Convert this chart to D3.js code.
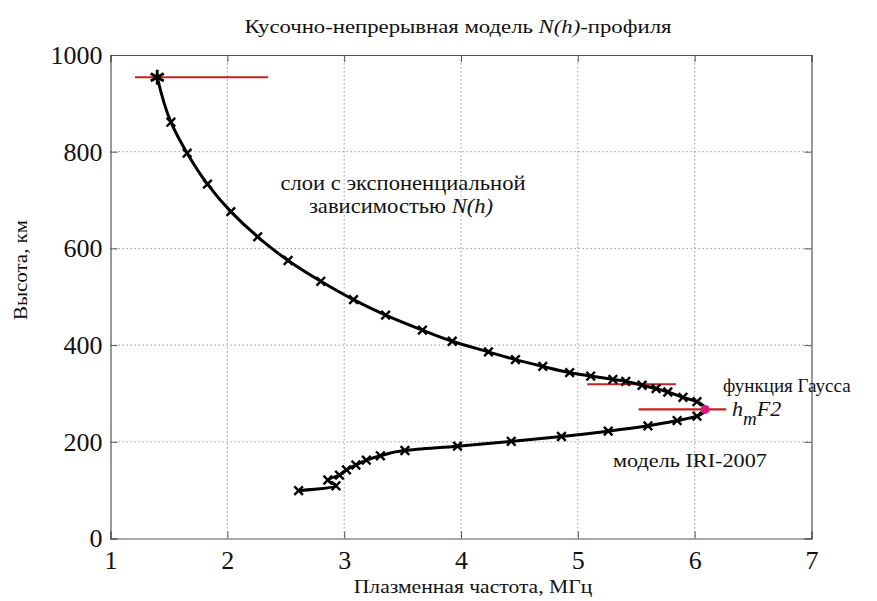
<!DOCTYPE html>
<html>
<head>
<meta charset="utf-8">
<script src="https://cdn.jsdelivr.net/npm/d3@7"></script>
<style>
  html, body { margin: 0; padding: 0; background: #fff; }
  svg { display: block; }
  text { font-family: "Liberation Serif", "Times New Roman", serif; fill: #111; }
</style>
</head>
<body>
<svg id="chart" width="877" height="601"></svg>
<script>
// ---- data ----
const xTicks = [1, 2, 3, 4, 5, 6, 7];
const yTicks = [0, 200, 400, 600, 800, 1000];

// lower part of the profile (IRI-2007 model), from the bottom up
const lowerFreq   = [2.61, 2.93, 2.86, 2.96, 3.02, 3.10, 3.19, 3.31, 3.52, 3.97, 4.43, 4.86, 5.26, 5.60, 5.85, 6.02];
const lowerHeight = [99, 109, 121, 131, 142, 152, 162, 171, 182, 191, 201, 211, 222, 233, 244, 253];

// peak hmF2
const peakFreq = [6.09];
const peakHeight = [267];

// upper part (Gaussian + exponential layers), from the peak up
const upperFreq   = [6.02, 5.90, 5.77, 5.67, 5.55, 5.41, 5.30, 5.11, 4.93, 4.70, 4.466, 4.235, 3.925, 3.67, 3.355, 3.08, 2.80, 2.52, 2.26, 2.03, 1.83, 1.656, 1.517, 1.40];
const upperHeight = [283, 292, 303, 310, 317, 325, 329, 336, 343, 356, 370, 386, 408, 431, 462, 494, 532, 575, 624, 676, 733, 797, 861, 954];

// layer boundaries (red horizontal lines)
const boundaryHeight = [954, 319, 267];
const boundaryStart  = [1.21, 5.08, 5.52];
const boundaryEnd    = [2.35, 5.84, 6.27];

// ---- drawing ----
const svg = d3.select("#chart");
const pL = 110.5, pR = 811.5, pT = 55, pB = 538.5;

const x = d3.scaleLinear().domain([1, 7]).range([pL, pR]);
const y = d3.scaleLinear().domain([0, 1000]).range([pB, pT]);

// grid
const grid = svg.append("g");
grid.selectAll("line.gx").data(xTicks.slice(1, -1)).join("line")
  .attr("x1", d => x(d)).attr("x2", d => x(d))
  .attr("y1", pT).attr("y2", pB)
  .attr("stroke", "#999").attr("stroke-width", 1).attr("stroke-dasharray", "1.5,2.5");
grid.selectAll("line.gy").data(yTicks.slice(1, -1)).join("line")
  .attr("y1", d => y(d)).attr("y2", d => y(d))
  .attr("x1", pL).attr("x2", pR)
  .attr("stroke", "#999").attr("stroke-width", 1).attr("stroke-dasharray", "1.5,2.5");

// axes (ticks inward)
const axB = svg.append("g").attr("transform", `translate(0,${pB})`)
  .call(d3.axisBottom(x).tickValues(xTicks).tickSize(-7).tickPadding(12).tickFormat(d3.format("d")));
const axL = svg.append("g").attr("transform", `translate(${pL},0)`)
  .call(d3.axisLeft(y).tickValues(yTicks).tickSize(-7).tickPadding(8).tickFormat(d3.format("d")));
const axT = svg.append("g").attr("transform", `translate(0,${pT})`)
  .call(d3.axisTop(x).tickValues(xTicks).tickSize(-7).tickFormat(""));
const axR = svg.append("g").attr("transform", `translate(${pR},0)`)
  .call(d3.axisRight(y).tickValues(yTicks).tickSize(-7).tickFormat(""));
[axB, axL, axT, axR].forEach(g => {
  g.selectAll("path.domain").attr("stroke", "#555").attr("stroke-width", 1.2);
  g.selectAll(".tick line").attr("stroke", "#555");
  g.selectAll(".tick text").attr("font-family", "Liberation Serif, serif")
    .attr("font-size", 26).attr("fill", "#111");
});

// red boundary lines
svg.append("g").selectAll("line").data(boundaryHeight).join("line")
  .attr("x1", (d, i) => x(boundaryStart[i])).attr("x2", (d, i) => x(boundaryEnd[i]))
  .attr("y1", d => y(d)).attr("y2", d => y(d))
  .attr("stroke", "#c42326").attr("stroke-width", 2.2);

// profile curve
const pts = [];
lowerFreq.forEach((f, i) => pts.push([f, lowerHeight[i]]));
peakFreq.forEach((f, i) => pts.push([f, peakHeight[i]]));
upperFreq.forEach((f, i) => pts.push([f, upperHeight[i]]));
const line = d3.line().x(d => x(d[0])).y(d => y(d[1])).curve(d3.curveMonotoneY);
svg.append("path").datum(pts).attr("d", line)
  .attr("fill", "none").attr("stroke", "#000").attr("stroke-width", 3).attr("stroke-linejoin", "round");

// cross markers
const markPts = [];
lowerFreq.forEach((f, i) => markPts.push([f, lowerHeight[i]]));
upperFreq.slice(0, -1).forEach((f, i) => markPts.push([f, upperHeight[i]]));
const cross = d3.symbol().type(d3.symbolTimes).size(50);
svg.append("g").selectAll("path").data(markPts).join("path")
  .attr("transform", d => `translate(${x(d[0])},${y(d[1])})`)
  .attr("d", cross).attr("fill", "none").attr("stroke", "#000").attr("stroke-width", 2.4);

// asterisk at the top
const lastI = upperFreq.length - 1;
svg.append("path")
  .attr("transform", `translate(${x(upperFreq[lastI])},${y(upperHeight[lastI])})`)
  .attr("d", d3.symbol().type(d3.symbolAsterisk).size(160))
  .attr("fill", "none").attr("stroke", "#000").attr("stroke-width", 2.8);

// peak marker
svg.append("circle")
  .attr("cx", x(peakFreq[0])).attr("cy", y(peakHeight[0])).attr("r", 4.5)
  .attr("fill", "#e0157d");

// ---- texts (reference text is horizontally stretched) ----
function label(px, py, size, sx, anchor, rot) {
  const t = svg.append("text")
    .attr("transform", `translate(${px},${py})${rot ? " rotate(" + rot + ")" : ""} scale(${sx},1)`)
    .attr("font-size", size).attr("text-anchor", anchor || "start");
  return t;
}

const title = label(458, 33, 18.5, 1.23, "middle");
title.append("tspan").text("Кусочно-непрерывная модель ");
title.append("tspan").attr("font-style", "italic").text("N(h)");
title.append("tspan").text("-профиля");

label(473, 593, 18, 1.2, "middle").text("Плазменная частота, МГц");

label(27, 270, 19, 1.1, "middle", -90).text("Высота, км");

label(403, 190, 20, 1.13, "middle").text("слои с экспоненциальной");
const t2 = label(401, 213, 20, 1.13, "middle");
t2.append("tspan").text("зависимостью ");
t2.append("tspan").attr("font-style", "italic").text("N(h)");

label(723, 392, 19, 1.0).text("функция Гаусса");

const hm = label(732, 416, 21, 1.05).attr("font-style", "italic");
hm.append("tspan").text("h");
hm.append("tspan").attr("font-size", 18).attr("dy", 9).text("m");
hm.append("tspan").attr("dy", -9).text("F2");

label(613, 467, 19, 1.17).text("модель IRI-2007");
</script>
</body>
</html>
